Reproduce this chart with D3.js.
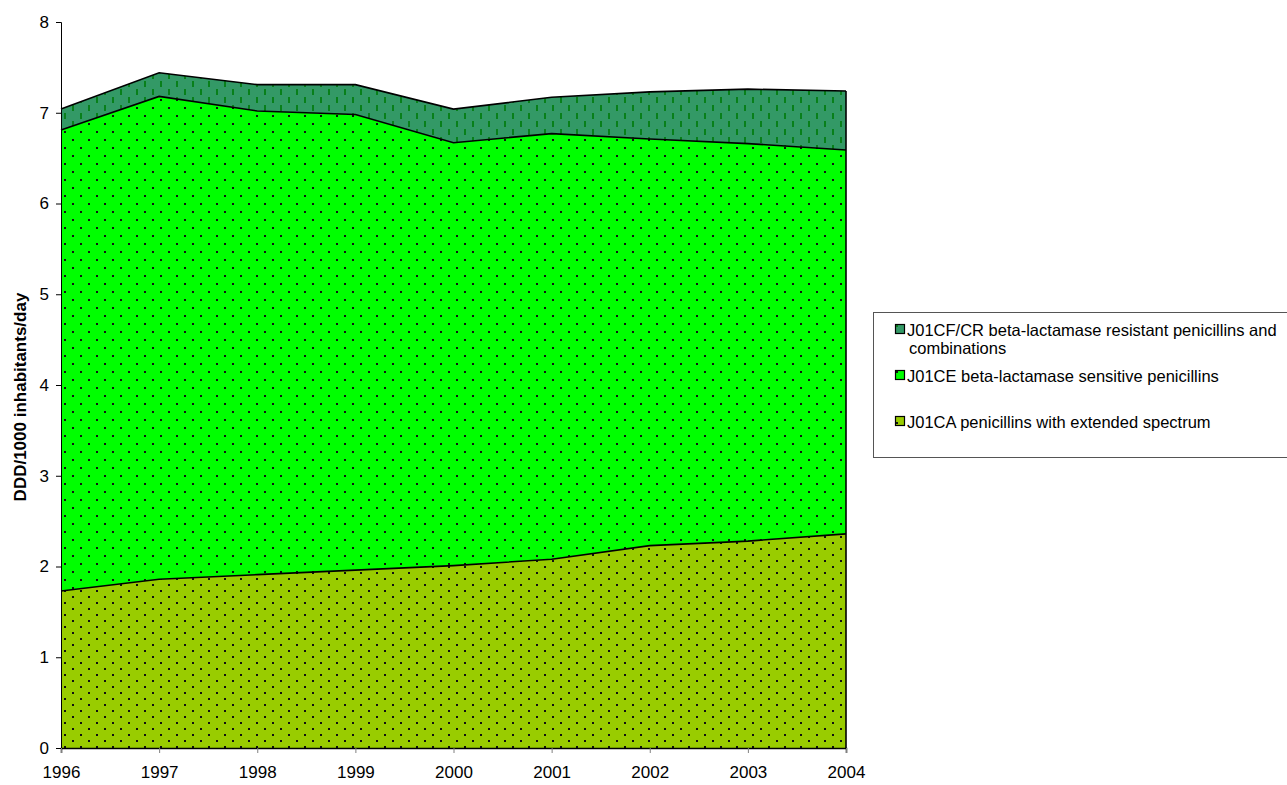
<!DOCTYPE html>
<html>
<head>
<meta charset="utf-8">
<script src="https://cdn.jsdelivr.net/npm/d3@7"></script>
<style>
  html, body { margin: 0; padding: 0; background: #fff; }
  svg { display: block; font-family: "Liberation Sans", Arial, sans-serif; }
</style>
</head>
<body>
<svg id="chart" width="1287" height="785"></svg>
<script>
const years = [1996, 1997, 1998, 1999, 2000, 2001, 2002, 2003, 2004];
const caValues = [1.73, 1.86, 1.91, 1.96, 2.01, 2.08, 2.23, 2.28, 2.36];
const ceValues = [5.08, 5.32, 5.11, 5.02, 4.66, 4.69, 4.48, 4.38, 4.23];
const cfValues = [0.23, 0.26, 0.29, 0.33, 0.37, 0.40, 0.52, 0.60, 0.65];
const seriesKeys = ["ca", "ce", "cf"];
const seriesNames = {
  cf: ["J01CF/CR beta-lactamase resistant penicillins and", "combinations"],
  ce: ["J01CE beta-lactamase sensitive penicillins"],
  ca: ["J01CA penicillins with extended spectrum"]
};
const yTicks = [0, 1, 2, 3, 4, 5, 6, 7, 8];
const yLabel = "DDD/1000 inhabitants/day";

const table = years.map((y, i) => ({ year: y, ca: caValues[i], ce: ceValues[i], cf: cfValues[i] }));

const svg = d3.select("#chart");
const m = { left: 61, right: 846, top: 22, bottom: 748 };

const x = d3.scaleLinear().domain([1996, 2004]).range([m.left, m.right]);
const y = d3.scaleLinear().domain([0, 8]).range([m.bottom, m.top]);

// patterns
const defs = svg.append("defs");
function dotPattern(id, bg, w, h, pts) {
  const p = defs.append("pattern").attr("id", id).attr("patternUnits", "userSpaceOnUse")
    .attr("width", w).attr("height", h).attr("x", m.left).attr("y", 0);
  p.append("rect").attr("width", w).attr("height", h).attr("fill", bg);
  pts.forEach(([px, py, pw, ph, c]) => p.append("rect").attr("x", px).attr("y", py)
    .attr("width", pw).attr("height", ph).attr("fill", c));
}
dotPattern("pat-ca", "#99cc00", 16, 12, [[3, 2, 2, 2, "#111"], [11, 8, 2, 2, "#111"]]);
dotPattern("pat-ce", "#00ff00", 16, 16, [[3, 3, 2, 2, "#111"], [11, 11, 2, 2, "#111"]]);
dotPattern("pat-cf", "#339966", 16, 16, [[3, 1, 2, 6, "#08801a"], [11, 9, 2, 6, "#08801a"]]);

const fills = { ca: "url(#pat-ca)", ce: "url(#pat-ce)", cf: "url(#pat-cf)" };

const stack = d3.stack().keys(seriesKeys);
const stacked = stack(table);

const area = d3.area().x(d => x(d.data.year)).y0(d => y(d[0])).y1(d => y(d[1]));
const topLine = d3.line().x(d => x(d.data.year)).y(d => y(d[1]));

svg.append("g").selectAll("path").data(stacked).join("path")
  .attr("d", area).attr("fill", d => fills[d.key]).attr("stroke", "none");

// top outlines
svg.append("g").selectAll("path").data(stacked).join("path")
  .attr("d", topLine).attr("fill", "none").attr("stroke", "#000").attr("stroke-width", 1.6);

// right edge
const last = stacked[stacked.length - 1][years.length - 1];
svg.append("line").attr("x1", x(2004)).attr("x2", x(2004))
  .attr("y1", y(0)).attr("y2", y(last[1])).attr("stroke", "#000").attr("stroke-width", 1.6);

// axes
const yAxis = d3.axisLeft(y).tickValues(yTicks).tickSize(5).tickPadding(7).tickFormat(d3.format("d"));
const gy = svg.append("g").attr("transform", `translate(${m.left},0)`).call(yAxis);
gy.select(".domain").attr("stroke", "#000").attr("stroke-width", 1);
gy.selectAll(".tick line").attr("stroke", "#000");
gy.selectAll(".tick text").attr("font-size", 17).attr("fill", "#000")
  .attr("font-family", "Liberation Sans, Arial, sans-serif");

const xAxis = d3.axisBottom(x).tickValues(years).tickSize(5).tickPadding(13).tickFormat(d3.format("d"));
const gx = svg.append("g").attr("transform", `translate(0,${m.bottom})`).call(xAxis);
gx.select(".domain").attr("stroke", "#000").attr("stroke-width", 1.5);
gx.selectAll(".tick line").attr("stroke", "#808080");
gx.selectAll(".tick text").attr("font-size", 17).attr("fill", "#000")
  .attr("font-family", "Liberation Sans, Arial, sans-serif");

// y label
svg.append("text").attr("transform", `translate(26,${(m.top + m.bottom) / 2 + 12}) rotate(-90)`)
  .attr("text-anchor", "middle").attr("font-weight", "bold").attr("font-size", 17)
  .attr("fill", "#000").text(yLabel);

// legend
const lg = svg.append("g");
lg.append("rect").attr("x", 873.5).attr("y", 312.5).attr("width", 430).attr("height", 145)
  .attr("fill", "#fff").attr("stroke", "#555").attr("stroke-width", 1);
const legendItems = [
  { key: "cf", y: 336 },
  { key: "ce", y: 382 },
  { key: "ca", y: 428 }
];
legendItems.forEach(it => {
  lg.append("rect").attr("x", 895.5).attr("y", it.y - 11.5).attr("width", 9).attr("height", 9)
    .attr("fill", fills[it.key]).attr("stroke", "#000").attr("stroke-width", 1.2);
  const t = lg.append("text").attr("x", 907).attr("y", it.y).attr("font-size", 16.5).attr("fill", "#000");
  seriesNames[it.key].forEach((line, i) => {
    t.append("tspan").attr("x", i === 0 ? 907 : 909).attr("dy", i === 0 ? 0 : 17.5).text(line);
  });
});
</script>
</body>
</html>
